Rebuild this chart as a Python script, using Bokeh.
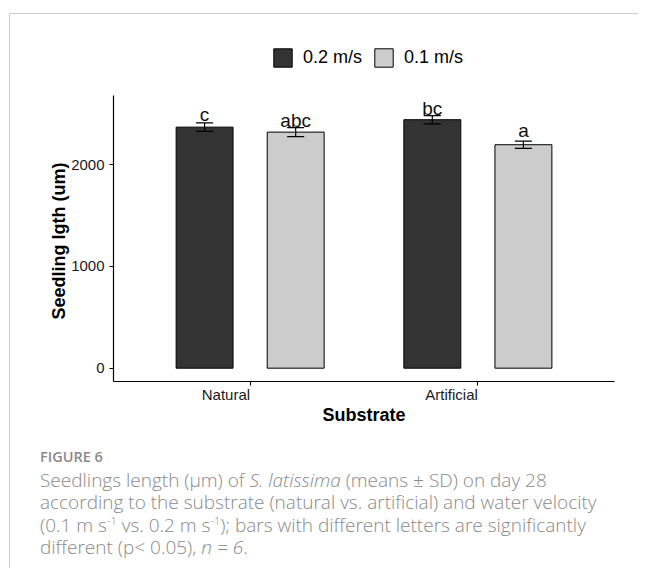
from bokeh.plotting import figure
from bokeh.models import FixedTicker, Legend, LegendItem, Div, Range1d, LinearAxis, Title
from bokeh.layouts import column
from bokeh.core.properties import value
from bokeh.embed import file_html
from bokeh.resources import INLINE

# ---- data ----
substrates = ["Natural", "Artificial"]
velocities = ["0.2 m/s", "0.1 m/s"]
mean_fast = [2370, 2443]      # 0.2 m/s
mean_slow = [2321, 2197]      # 0.1 m/s
sd_fast = [42, 41]
sd_slow = [45, 36]
letters_fast = ["c", "bc"]
letters_slow = ["abc", "a"]
letter_y_fast = [2429, 2485]
letter_y_slow = [2372, 2271]
y_ticks = [0, 1000, 2000]

FONT = "Liberation Sans"
DARK = "#333333"
LIGHT = "#CCCCCC"

X0, X1 = 0.4, 2.6
Y0, Y1 = -131, 2681          # extent of the drawn y axis
FRAME_W = 501
AXIS_H = 286                 # pixel height of the drawn y axis
EXTRA_TOP = 65               # room above the axis for the legend (pixels)
px_per_y = AXIS_H / (Y1 - Y0)
Y_TOP = Y1 + EXTRA_TOP / px_per_y

pos = [i + 1 for i in range(len(substrates))]
dodge = 0.2
bar_w = 0.25
cap = 0.0375
x_fast = [x - dodge for x in pos]
x_slow = [x + dodge for x in pos]

# tick labels are right-aligned at their tick (as in the reference)
px_per_unit = FRAME_W / (X1 - X0)
_W = {"i": .222, "l": .222, "j": .222, "t": .278, "f": .278, "r": .333,
      "c": .5, "s": .5, "k": .5, "v": .5, "x": .5, "y": .5, "z": .5,
      "m": .833, "w": .722, "N": .722, "A": .667}
def approx_width(s, size=15):
    return sum(_W.get(c, .556) for c in s) * size
label_pos = [x - approx_width(s) / 2 / px_per_unit for x, s in zip(pos, substrates)]

p = figure(width=628, height=426, x_range=Range1d(X0, X1), y_range=Range1d(Y0, Y_TOP),
           output_backend="svg", toolbar_location=None, x_axis_location=None,
           min_border_left=103, min_border_right=24, min_border_top=16, min_border_bottom=59)
p.xgrid.visible = False
p.ygrid.visible = False
p.outline_line_color = None
p.background_fill_color = "white"
p.border_fill_color = "white"

r_fast = p.vbar(x=x_fast, top=mean_fast, bottom=0, width=bar_w, fill_color=DARK, line_color="black", line_width=1)
r_slow = p.vbar(x=x_slow, top=mean_slow, bottom=0, width=bar_w, fill_color=LIGHT, line_color="black", line_width=1)

for xs, m, s in ((x_fast, mean_fast, sd_fast), (x_slow, mean_slow, sd_slow)):
    lo = [a - b for a, b in zip(m, s)]
    hi = [a + b for a, b in zip(m, s)]
    p.segment(x0=xs, x1=xs, y0=lo, y1=hi, line_color="black", line_width=1.2)
    p.segment(x0=[x - cap for x in xs], x1=[x + cap for x in xs], y0=lo, y1=lo, line_color="black", line_width=1.2)
    p.segment(x0=[x - cap for x in xs], x1=[x + cap for x in xs], y0=hi, y1=hi, line_color="black", line_width=1.2)

for xs, ys, ls in ((x_fast, letter_y_fast, letters_fast), (x_slow, letter_y_slow, letters_slow)):
    p.text(x=xs, y=ys, text=ls, text_align="center", text_baseline="bottom", y_offset=4,
           text_font=value(FONT), text_font_size="19px", text_color="#111111")

def style_axis(ax):
    ax.axis_line_color = "black"
    ax.axis_line_width = 1.2
    ax.major_tick_line_color = "black"
    ax.major_tick_out = 4
    ax.major_tick_in = 0
    ax.minor_tick_line_color = None
    ax.major_label_text_font = FONT
    ax.major_label_text_font_size = "15px"
    ax.major_label_text_color = "#1a1a1a"
    ax.axis_label_text_font = FONT
    ax.axis_label_text_font_size = "18px"
    ax.axis_label_text_font_style = "bold"
    ax.axis_label_text_color = "black"

# x axis: line + ticks (labels hidden)
ax_ticks = LinearAxis(ticker=FixedTicker(ticks=pos))
style_axis(ax_ticks)
ax_ticks.major_label_text_font_size = "1px"
ax_ticks.major_label_text_color = None
ax_ticks.major_label_standoff = 0
# x axis: labels only, stacked right under it
ax_labels = LinearAxis(ticker=FixedTicker(ticks=label_pos))
style_axis(ax_labels)
ax_labels.major_label_overrides = {x: s for x, s in zip(label_pos, substrates)}
ax_labels.axis_line_color = None
ax_labels.major_tick_line_color = None
ax_labels.major_tick_out = 0
ax_labels.major_label_standoff = 0
ax_labels.axis_label = "Substrate"
ax_labels.axis_label_standoff = -1
p.add_layout(ax_ticks, "below")
p.add_layout(ax_labels, "below")

style_axis(p.yaxis[0])
p.yaxis.bounds = (Y0, Y1)
p.yaxis.ticker = FixedTicker(ticks=y_ticks)
p.yaxis.major_label_standoff = 5

# y-axis title, centred on the drawn axis (not on the taller frame)
y_title_text = "Seedling lgth (um)"
title_len = approx_width(y_title_text, 18)
ytitle = Title(text=y_title_text, align="left", offset=AXIS_H / 2 - title_len / 2,
               vertical_align="bottom", standoff=0,
               text_font=FONT, text_font_size="18px", text_font_style="bold", text_color="black")
p.add_layout(ytitle, "left")

legend = Legend(items=[LegendItem(label=velocities[0], renderers=[r_fast]),
                       LegendItem(label=velocities[1], renderers=[r_slow])],
                orientation="horizontal", location=(158, 312),
                glyph_width=23, glyph_height=23, label_standoff=9, spacing=10,
                padding=0, margin=0, border_line_color=None, background_fill_alpha=0,
                label_text_font=FONT, label_text_font_size="18px", label_text_color="black")
p.add_layout(legend)

caption_html = (
    '<div style="font-family:\'Open Sans\'; color:#8a8a8a; padding:4.7px 0 0 30px; white-space:nowrap;">'
    '<div style="font-size:14.5px; font-weight:600; line-height:24px;">FIGURE 6</div>'
    '<div style="font-size:19px; font-weight:300; line-height:22.6px;">'
    'Seedlings length (\u00b5m) of <i>S. latissima</i> (means \u00b1 SD) on day 28<br>'
    'according to the substrate (natural vs. artificial) and water velocity<br>'
    '(0.1 m s<sup style="font-size:11px; line-height:0; vertical-align:baseline; position:relative; top:-7px;">-1</sup> vs. '
    '0.2 m s<sup style="font-size:11px; line-height:0; vertical-align:baseline; position:relative; top:-7px;">-1</sup>); '
    'bars with different letters are significantly<br>'
    'different (p&lt; 0.05), <i>n = 6</i>.'
    '</div></div>'
)
caption = Div(text=caption_html, width=628, height=128, margin=(0, 0, 0, 0))

layout = column(p, caption, margin=(13, 0, 0, 9), spacing=0,
                styles={"border-top": "1px solid #cccccc", "border-left": "1px solid #cccccc"})

open("out.html", "w").write(file_html(layout, INLINE))
